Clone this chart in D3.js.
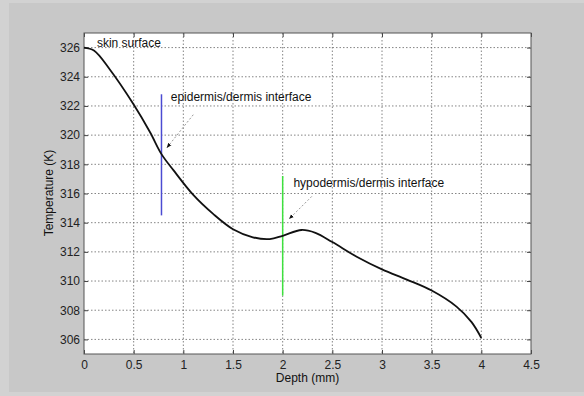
<!DOCTYPE html>
<html>
<head>
<meta charset="utf-8">
<script src="https://cdn.jsdelivr.net/npm/d3@7"></script>
<style>
  body { margin: 0; background: #d2d2d2; }
  svg { display: block; }
  text { font-family: "Liberation Sans", Arial, sans-serif; }
</style>
</head>
<body>
<svg width="584" height="396"></svg>
<script>
// temperature profile
var depth = [0, 0.1, 0.26, 0.5, 0.665, 0.78, 0.9, 1.1, 1.3, 1.5, 1.7, 1.87, 2.0, 2.19, 2.33, 2.5, 2.75, 3.0, 3.25, 3.5, 3.75, 3.9, 4.0];
var temp = [326.0, 325.8, 324.5, 322.1, 320.2, 318.7, 317.6, 315.9, 314.6, 313.55, 313.0, 312.88, 313.1, 313.5, 313.3, 312.67, 311.65, 310.8, 310.1, 309.35, 308.25, 307.2, 306.1];

var xTicks = [0, 0.5, 1, 1.5, 2, 2.5, 3, 3.5, 4, 4.5];
var yTicks = [306, 308, 310, 312, 314, 316, 318, 320, 322, 324, 326];

// interface markers: depth, temperature range
var interfaces = [
  {x: 0.78, y0: 314.5, y1: 322.8, color: "#4b4bd2"},
  {x: 2.0, y0: 309.0, y1: 317.2, color: "#3ee03e"}
];

// annotations (data coords)
var notes = [
  {text: "skin surface", x: 0.13, y: 326.34},
  {text: "epidermis/dermis interface", x: 0.873, y: 322.66, ax0: 1.1, ay0: 321.4, ax1: 0.836, ay1: 319.15},
  {text: "hypodermis/dermis interface", x: 2.108, y: 316.73, ax0: 2.293, ay0: 315.8, ax1: 2.067, ay1: 314.27}
];

var svg = d3.select("svg");

svg.append("rect").attr("x", 9).attr("y", 3).attr("width", 575).attr("height", 389).attr("fill", "#c8c8c8");

var mLeft = 84, mRight = 531, mTop = 33, mBottom = 354;

var x = d3.scaleLinear().domain([0, 4.5]).range([mLeft, mRight]);
var y = d3.scaleLinear().domain([305, 327]).range([mBottom, mTop]);

svg.append("rect")
    .attr("x", mLeft).attr("y", mTop)
    .attr("width", mRight - mLeft).attr("height", mBottom - mTop)
    .attr("fill", "#fff");

// dotted grid
var grid = svg.append("g").attr("stroke", "#666").attr("stroke-width", 0.8).attr("stroke-dasharray", "1.5,2");
grid.selectAll(".gx").data(xTicks.slice(1, -1)).enter().append("line")
    .attr("x1", function(d) { return x(d); }).attr("x2", function(d) { return x(d); })
    .attr("y1", mTop).attr("y2", mBottom);
grid.selectAll(".gy").data(yTicks).enter().append("line")
    .attr("y1", function(d) { return y(d); }).attr("y2", function(d) { return y(d); })
    .attr("x1", mLeft).attr("x2", mRight);

// axes with inward ticks
function styleAxis(g) {
  g.select(".domain").remove();
  g.selectAll("line").attr("stroke", "#444");
  g.selectAll("text").attr("font-size", "12px").attr("fill", "#222");
}
svg.append("g").attr("transform", "translate(0," + mBottom + ")")
    .call(d3.axisBottom(x).tickValues(xTicks).tickFormat(d3.format("")).tickSizeInner(-4).tickPadding(6))
    .call(styleAxis);
svg.append("g").attr("transform", "translate(0," + mTop + ")")
    .call(d3.axisTop(x).tickValues(xTicks).tickFormat("").tickSizeInner(-4))
    .call(styleAxis);
svg.append("g").attr("transform", "translate(" + mLeft + ",0)")
    .call(d3.axisLeft(y).tickValues(yTicks).tickFormat(d3.format("d")).tickSizeInner(-4).tickPadding(4))
    .call(styleAxis);
svg.append("g").attr("transform", "translate(" + mRight + ",0)")
    .call(d3.axisRight(y).tickValues(yTicks).tickFormat("").tickSizeInner(-4))
    .call(styleAxis);

svg.append("rect")
    .attr("x", mLeft).attr("y", mTop)
    .attr("width", mRight - mLeft).attr("height", mBottom - mTop)
    .attr("fill", "none").attr("stroke", "#555").attr("stroke-width", 1);

// interface lines
svg.selectAll(".iface").data(interfaces).enter().append("line")
    .attr("x1", function(d) { return x(d.x); }).attr("x2", function(d) { return x(d.x); })
    .attr("y1", function(d) { return y(d.y0); }).attr("y2", function(d) { return y(d.y1); })
    .attr("stroke", function(d) { return d.color; })
    .attr("stroke-width", 1.5);

// temperature curve
var line = d3.line()
    .x(function(d, i) { return x(depth[i]); })
    .y(function(d) { return y(d); })
    .curve(d3.curveCatmullRom.alpha(0.5));
svg.append("path")
    .attr("d", line(temp))
    .attr("fill", "none")
    .attr("stroke", "#111")
    .attr("stroke-width", 1.8);

// arrows
svg.append("defs").append("marker")
    .attr("id", "head").attr("viewBox", "0 0 10 10")
    .attr("refX", 9).attr("refY", 5)
    .attr("markerWidth", 5).attr("markerHeight", 5)
    .attr("orient", "auto")
  .append("path").attr("d", "M0,1L10,5L0,9Z").attr("fill", "#111");

svg.selectAll(".arrow").data(notes.filter(function(d) { return d.ax0 != null; })).enter().append("line")
    .attr("x1", function(d) { return x(d.ax0); }).attr("y1", function(d) { return y(d.ay0); })
    .attr("x2", function(d) { return x(d.ax1); }).attr("y2", function(d) { return y(d.ay1); })
    .attr("stroke", "#999").attr("stroke-width", 1)
    .attr("stroke-dasharray", "2,2")
    .attr("marker-end", "url(#head)");

svg.selectAll(".note").data(notes).enter().append("text")
    .attr("x", function(d) { return x(d.x); })
    .attr("y", function(d) { return y(d.y); })
    .attr("dy", "0.35em")
    .attr("font-size", "12px")
    .attr("fill", "#111")
    .text(function(d) { return d.text; });

// axis labels
svg.append("text")
    .attr("x", (mLeft + mRight) / 2).attr("y", 378).attr("dy", "0.35em")
    .attr("text-anchor", "middle").attr("font-size", "12px").attr("fill", "#111")
    .text("Depth (mm)");
svg.append("text")
    .attr("transform", "translate(49," + 193 + ") rotate(-90)")
    .attr("dy", "0.35em")
    .attr("text-anchor", "middle").attr("font-size", "12px").attr("fill", "#111")
    .text("Temperature (K)");
</script>
</body>
</html>
